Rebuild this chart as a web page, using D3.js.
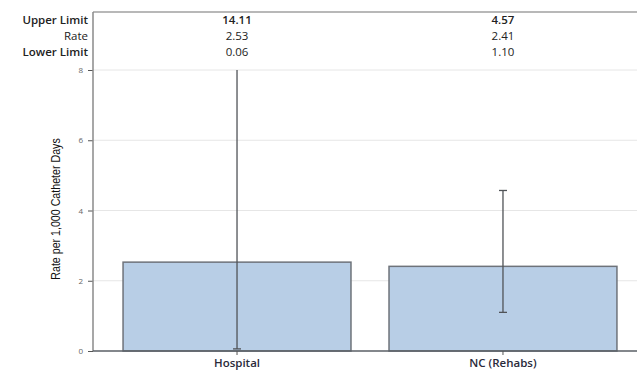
<!DOCTYPE html>
<html>
<head>
<meta charset="utf-8">
<script src="https://cdn.jsdelivr.net/npm/d3@7"></script>
<style>
  html, body { margin: 0; padding: 0; background: #fff; }
  svg { display: block; }
</style>
</head>
<body>
<svg id="chart" width="637" height="371"></svg>
<script>
const categories = ["Hospital", "NC (Rehabs)"];
const rates = [2.53, 2.41];
const upperLimits = [14.11, 4.57];
const lowerLimits = [0.06, 1.10];
const rowLabels = ["Upper Limit", "Rate", "Lower Limit"];
const yTicks = [0, 2, 4, 6, 8];
const yTitle = "Rate per 1,000 Catheter Days";

(function () {
const svg = d3.select("#chart");
const mLeft = 93, mRight = 637, mTop = 12, plotTop = 70, mBottom = 351;
const font = "'Open Sans', Lato, sans-serif";

const x = d3.scaleBand().domain(categories).range([mLeft, 647])
  .paddingInner(0.143).paddingOuter(0.113);
const y = d3.scaleLinear().domain([0, 8]).range([mBottom, plotTop]);
const yc = v => y(Math.min(v, 8));

// gridlines
svg.append("g").selectAll("line").data(yTicks.filter(d => d > 0)).join("line")
  .attr("x1", mLeft).attr("x2", mRight)
  .attr("y1", d => y(d)).attr("y2", d => y(d))
  .attr("stroke", "#e6e6e6").attr("stroke-width", 1);

// top border
svg.append("line").attr("x1", mLeft).attr("x2", mRight).attr("y1", mTop).attr("y2", mTop)
  .attr("stroke", "#a0a0a0").attr("stroke-width", 1.5);

// y axis
const yAxis = svg.append("g").attr("transform", `translate(${mLeft},0)`)
  .call(d3.axisLeft(y).tickValues(yTicks).tickSize(5).tickPadding(5).tickFormat(d3.format("d")));
yAxis.select(".domain").remove();
yAxis.selectAll(".tick line").attr("stroke", "#555");
yAxis.selectAll(".tick text").attr("fill", "#666").style("font-family", font).style("font-size", "8px");
svg.append("line").attr("x1", mLeft).attr("x2", mLeft).attr("y1", mTop).attr("y2", mBottom)
  .attr("stroke", "#8a8a8a").attr("stroke-width", 1.5);

// bars
svg.append("g").selectAll("rect").data(categories).join("rect")
  .attr("x", d => x(d)).attr("width", x.bandwidth())
  .attr("y", (d, i) => y(rates[i])).attr("height", (d, i) => mBottom - y(rates[i]))
  .attr("fill", "#b8cee6").attr("stroke", "#6e737a").attr("stroke-width", 1.5);

// baseline
svg.append("line").attr("x1", mLeft).attr("x2", mRight).attr("y1", mBottom).attr("y2", mBottom)
  .attr("stroke", "#5a5f66").attr("stroke-width", 1.5);

// x axis ticks + labels
const xAxis = svg.append("g").attr("transform", `translate(0,${mBottom})`)
  .call(d3.axisBottom(x).tickSize(4).tickPadding(4));
xAxis.select(".domain").remove();
xAxis.selectAll(".tick line").attr("stroke", "#555");
xAxis.selectAll(".tick text").attr("fill", "#2a2a3a")
  .style("font-family", font).style("font-size", "11.5px").style("font-weight", "600");

// error bars
const eb = svg.append("g");
categories.forEach((c, i) => {
  const cx = x(c) + x.bandwidth() / 2;
  eb.append("line").attr("x1", cx).attr("x2", cx)
    .attr("y1", yc(upperLimits[i])).attr("y2", y(lowerLimits[i]))
    .attr("stroke", "#505357").attr("stroke-width", 1.3);
  if (upperLimits[i] <= 8) {
    eb.append("line").attr("x1", cx - 4).attr("x2", cx + 4)
      .attr("y1", y(upperLimits[i])).attr("y2", y(upperLimits[i]))
      .attr("stroke", "#505357").attr("stroke-width", 1.3);
  }
  eb.append("line").attr("x1", cx - 4).attr("x2", cx + 4)
    .attr("y1", y(lowerLimits[i])).attr("y2", y(lowerLimits[i]))
    .attr("stroke", "#505357").attr("stroke-width", 1.3);
});

// table
const rowY = [20, 36, 52];
svg.append("g").selectAll("text").data(rowLabels).join("text")
  .attr("x", 88).attr("y", (d, i) => rowY[i]).attr("dy", "0.35em")
  .attr("text-anchor", "end").attr("fill", "#222")
  .style("font-family", font).style("font-size", "11.5px")
  .style("font-weight", (d, i) => i === 1 ? "normal" : "600")
  .text(d => d);
const rows = [upperLimits, rates, lowerLimits];
rows.forEach((arr, r) => {
  svg.append("g").selectAll("text").data(arr).join("text")
    .attr("x", (d, i) => x(categories[i]) + x.bandwidth() / 2)
    .attr("y", rowY[r]).attr("dy", "0.35em")
    .attr("text-anchor", "middle").attr("fill", "#222")
    .style("font-family", font).style("font-size", "11.5px")
    .style("font-weight", r === 0 ? "600" : "normal")
    .text(d => d.toFixed(2));
});

// y title (condensed look)
svg.append("text")
  .attr("transform", "translate(60,209) rotate(-90) scale(0.82,1)")
  .attr("text-anchor", "middle").attr("fill", "#111")
  .style("font-family", "'Liberation Sans', Arial, sans-serif")
  .style("font-size", "13px")
  .text(yTitle);
})();
</script>
</body>
</html>
